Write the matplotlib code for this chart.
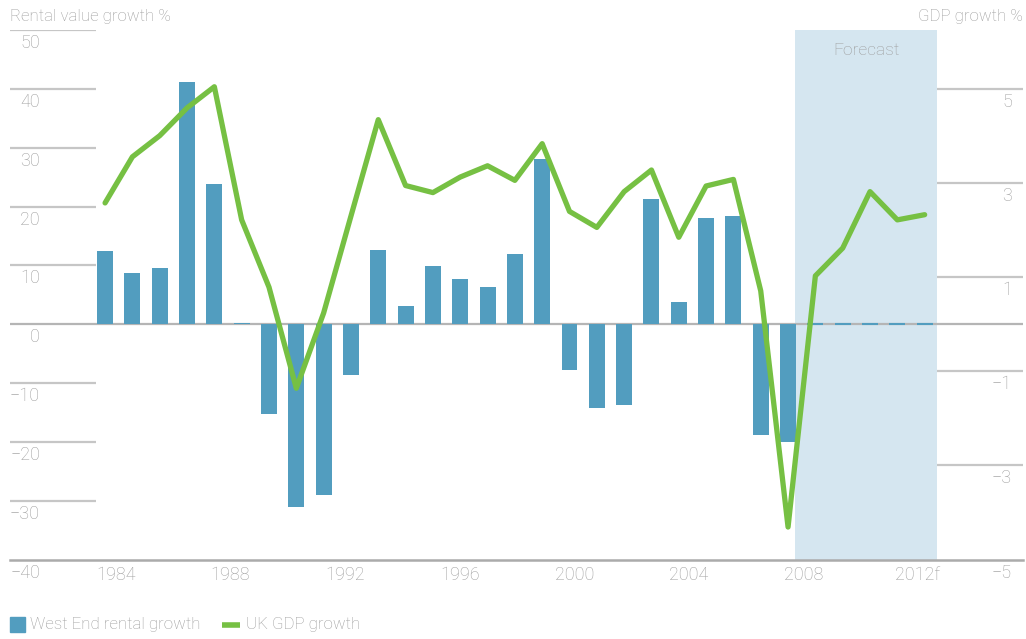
import matplotlib.pyplot as plt
import matplotlib.transforms as mtransforms
from matplotlib.patches import Rectangle
from matplotlib.lines import Line2D

# data
years = list(range(1982, 2008))
rental_growth = [12.5, 8.7, 9.6, 41.2, 23.9, 0.3, -15.2, -31.0, -29.0, -8.6,
                 12.6, 3.1, 9.9, 7.7, 6.3, 12.0, 28.1, -7.7, -14.3, -13.7,
                 21.3, 3.8, 18.1, 18.4, -18.8, -20.0]
forecast_years = [2008, 2009, 2010, 2011, 2012]
rental_forecast = [0, 0, 0, 0, 0]

gdp_years = list(range(1982, 2013))
gdp_growth = [2.58, 3.56, 4.01, 4.6, 5.05, 2.22, 0.79, -1.36, 0.24, 2.3,
              4.35, 2.95, 2.8, 3.13, 3.37, 3.06, 3.84, 2.4, 2.06, 2.82,
              3.28, 1.85, 2.94, 3.08, 0.71, -4.31, 1.03, 1.62, 2.82, 2.22, 2.33]

x_labels = ['1984', '1988', '1992', '1996', '2000', '2004', '2008', '2012f']
left_ticks = [50, 40, 30, 20, 10, 0, -10, -20, -30, -40]
right_ticks = [5, 3, 1, -1, -3, -5]

blue = '#529dbf'
green = '#76c043'
shade = '#d5e6f0'
txt = '#9c9c9c'
grid = '#c6c6c6'

plt.rcParams['font.family'] = ['Roboto', 'DejaVu Sans']
plt.rcParams['font.weight'] = 'light'

W, H = 1026, 639
fig = plt.figure(figsize=(10.26, 6.39), dpi=100)
ax = fig.add_axes([10 / W, 79.5 / H, 1013 / W, 529.2 / H])
ax2 = ax.twinx()

x0, x1 = 1978.52, 2015.6
ax.set_xlim(x0, x1)
ax.set_ylim(-40, 50)
ax2.set_ylim(-5, 6.25)
for a in (ax, ax2):
    for s in a.spines.values():
        s.set_visible(False)
    a.set_xticks([])
    a.set_yticks([])

# forecast band
ax.axvspan(2007.26, 2012.45, color=shade, lw=0, zorder=0)
ax.text(2009.86, 46.6, 'Forecast', ha='center', va='center', color=txt,
        fontsize=12.5, fontweight='light')

# grid pieces
ax.hlines([50, 40, 30, 20, 10, -10, -20, -30], x0, 1981.67, color=grid, lw=1.6, zorder=1)
ax2.hlines([5, 3, 1, -1, -3], 2012.45, x1, color=grid, lw=1.6, zorder=1)
ax.axhline(0, color='#b5b5b5', lw=1.6, zorder=1)
ax.axhline(-40, color='#ababab', lw=1.8, zorder=1, clip_on=False)

# bars
ax.bar(years, rental_growth, width=0.585, color=blue, lw=0, zorder=2)
ax.bar(forecast_years, rental_forecast, width=0.585, color=blue,
       edgecolor=blue, lw=1.5, zorder=2)

# GDP line
ax2.plot(gdp_years, gdp_growth, color=green, lw=3.8, zorder=3,
         solid_joinstyle='round', solid_capstyle='round')

# tick labels
below = mtransforms.offset_copy(ax.transData, fig=fig, y=-13, units='dots')
for v in left_ticks:
    s = str(v).replace('-', '\u2212')
    ax.text(1979.62, v, s, transform=below, ha='right', va='center',
            color=txt, fontsize=13, fontweight='light', clip_on=False)
below2 = mtransforms.offset_copy(ax2.transData, fig=fig, y=-13, units='dots')
for v in right_ticks:
    s = str(v).replace('-', '\u2212')
    ax2.text(2015.2, v, s, transform=below2, ha='right', va='center',
             color=txt, fontsize=13, fontweight='light', clip_on=False)

below_x = mtransforms.offset_copy(ax.transData, fig=fig, y=-16, units='dots')
for i, lab in enumerate(x_labels):
    ax.text(1982.40 + 4.193 * i, -40, lab, transform=below_x, ha='center', va='center',
            color=txt, fontsize=13, fontweight='light', clip_on=False)

# axis titles
fig.text(10 / W, 1 - 16 / H, 'Rental value growth %', ha='left', va='center',
         color=txt, fontsize=12.2, fontweight='light')
fig.text(1023 / W, 1 - 16 / H, 'GDP growth %', ha='right', va='center',
         color=txt, fontsize=12.2, fontweight='light')

# legend, drawn by hand
ly = 1 - 625 / H
fig.add_artist(Rectangle((10 / W, 1 - 632 / H), 15 / W, 15 / H, color=blue,
                         transform=fig.transFigure))
fig.text(30 / W, ly, 'West End rental growth', ha='left', va='center',
         color=txt, fontsize=12.2, fontweight='light')
fig.add_artist(Line2D([222 / W, 240 / W], [ly, ly], color=green, lw=4,
                      solid_capstyle='butt', transform=fig.transFigure))
fig.text(246 / W, ly, 'UK GDP growth', ha='left', va='center',
         color=txt, fontsize=12.2, fontweight='light')

fig.savefig('out.png', dpi=100)
